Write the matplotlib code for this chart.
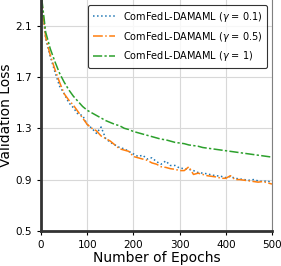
import matplotlib
matplotlib.use("Agg")
from matplotlib import pyplot as plt
import numpy as np

epochs = list(range(0, 501, 10))

loss_g01 = [2.32, 2.00, 1.86, 1.74, 1.63, 1.57, 1.50, 1.46, 1.41, 1.40,
            1.33, 1.30, 1.26, 1.31, 1.22, 1.19, 1.17, 1.15, 1.14, 1.12,
            1.10, 1.08, 1.09, 1.06, 1.07, 1.04, 1.02, 1.045, 1.01, 1.01,
            0.99, 0.985, 0.98, 0.97, 0.955, 0.95, 0.945, 0.935, 0.93, 0.925,
            0.915, 0.925, 0.91, 0.905, 0.90, 0.895, 0.90, 0.89, 0.885, 0.89,
            0.875]
loss_g05 = [2.34, 2.01, 1.87, 1.76, 1.66, 1.57, 1.52, 1.48, 1.43, 1.38,
            1.33, 1.30, 1.28, 1.24, 1.22, 1.20, 1.17, 1.14, 1.13, 1.12,
            1.08, 1.07, 1.06, 1.05, 1.03, 1.02, 1.00, 0.995, 0.985, 0.98,
            0.97, 0.97, 1.00, 0.94, 0.95, 0.94, 0.93, 0.925, 0.92, 0.91,
            0.91, 0.93, 0.90, 0.90, 0.895, 0.89, 0.885, 0.88, 0.885, 0.875,
            0.865]
loss_g1 = [2.36, 2.05, 1.92, 1.82, 1.73, 1.66, 1.60, 1.55, 1.51, 1.47,
           1.44, 1.42, 1.40, 1.38, 1.36, 1.345, 1.33, 1.32, 1.30, 1.29,
           1.275, 1.265, 1.255, 1.245, 1.235, 1.225, 1.215, 1.21, 1.20, 1.19,
           1.185, 1.18, 1.17, 1.165, 1.16, 1.15, 1.145, 1.14, 1.135, 1.13,
           1.125, 1.12, 1.115, 1.11, 1.105, 1.10, 1.095, 1.09, 1.085, 1.08,
           1.075]

labels = ["ComFedL-DAMAML ($\\gamma$ = 0.1)",
          "ComFedL-DAMAML ($\\gamma$ = 0.5)",
          "ComFedL-DAMAML ($\\gamma$ = 1)"]

fig = plt.figure(figsize=(2.81, 2.66), dpi=100)
ax = fig.add_axes([0.146, 0.132, 0.822, 0.868])

ax.plot(epochs, loss_g01, linestyle=":", color="#1f77b4", linewidth=1.1, label=labels[0])
ax.plot(epochs, loss_g05, linestyle="-.", color="#ff7f0e", linewidth=1.1, label=labels[1])
ax.plot(epochs, loss_g1, linestyle=(0, (6, 1.5, 1.5, 1.5)), color="#2ca02c", linewidth=1.1, label=labels[2])

ax.set_xlim(0, 500)
ax.set_ylim(0.5, 2.3)
ax.set_xticks([0, 100, 200, 300, 400, 500])
ax.set_yticks([0.5, 0.9, 1.3, 1.7, 2.1])
ax.tick_params(labelsize=7.5, length=3)
ax.grid(True, color="#d8d8d8", linewidth=0.8)
ax.set_axisbelow(True)
ax.set_xlabel("Number of Epochs", fontsize=10, labelpad=1)
ax.set_ylabel("Validation Loss", fontsize=10, labelpad=2)

for s in ["left", "bottom"]:
    ax.spines[s].set_linewidth(2)
    ax.spines[s].set_color("#333333")
ax.spines["right"].set_color("#808080")
ax.spines["top"].set_visible(False)

leg = ax.legend(loc="upper right", fontsize=7, edgecolor="black", fancybox=True,
                handlelength=2.3, borderpad=0.5, labelspacing=0.6)
leg.get_frame().set_linewidth(0.8)

fig.savefig("out.png", dpi=100)
